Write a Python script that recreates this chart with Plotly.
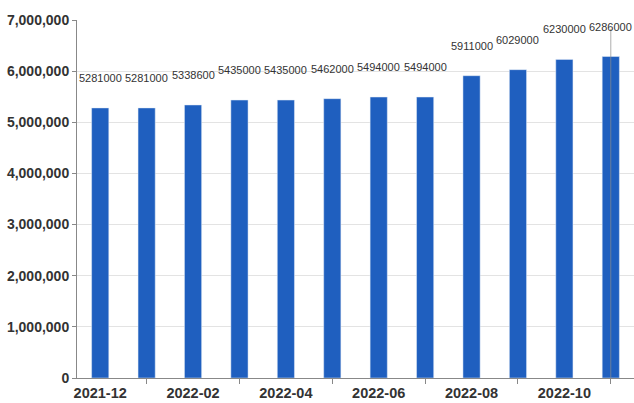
import plotly.graph_objects as go

months = ["2021-12", "2022-01", "2022-02", "2022-03", "2022-04", "2022-05",
          "2022-06", "2022-07", "2022-08", "2022-09", "2022-10", "2022-11"]
values = [5281000, 5281000, 5338600, 5435000, 5435000, 5462000,
          5494000, 5494000, 5911000, 6029000, 6230000, 6286000]
y_ticks = [0, 1000000, 2000000, 3000000, 4000000, 5000000, 6000000, 7000000]
y_ticktext = ["0", "1,000,000", "2,000,000", "3,000,000", "4,000,000",
              "5,000,000", "6,000,000", "7,000,000"]

BAR = "#1f5fbf"
FONT = "Liberation Sans, Arial, sans-serif"

fig = go.Figure()
fig.add_trace(go.Bar(x=months, y=values, marker_color=BAR, width=0.37,
                     hoverinfo="skip"))
# invisible helper trace for the secondary (tick-mark) axis
fig.add_trace(go.Scatter(x=months, y=values, xaxis="x2", mode="markers",
                         marker=dict(opacity=0), hoverinfo="skip",
                         showlegend=False))

for m, v in zip(months, values):
    fig.add_annotation(x=m, y=v, text=str(v), showarrow=False, yshift=30,
                       font=dict(family=FONT, size=11, color="#333"))

fig.add_shape(type="line", xref="x", yref="paper", x0=months[-1], x1=months[-1],
              y0=0, y1=0.975, line=dict(color="rgba(140,140,140,0.7)", width=1))

fig.update_layout(
    width=634, height=403,
    margin=dict(l=77, r=0, t=20, b=25),
    paper_bgcolor="white", plot_bgcolor="white",
    showlegend=False, bargap=0.63,
    xaxis=dict(type="category", categoryarray=months, categoryorder="array",
               range=[-0.5, 11.5], tickvals=months[0::2],
               ticktext=months[0::2], ticks="", showgrid=False,
               showline=True, linecolor="#888", linewidth=1,
               tickfont=dict(family=FONT, size=14.5, color="#333",
                             weight="bold"),
               ticklabelstandoff=2),
    xaxis2=dict(type="category", categoryarray=months, categoryorder="array",
                range=[-0.5, 11.5], overlaying="x", anchor="y",
                tickvals=months[1::2], ticks="outside", ticklen=5,
                tickcolor="#888", showticklabels=False, showgrid=False,
                showline=False, side="bottom"),
    yaxis=dict(range=[0, 7000000], tickvals=y_ticks, ticktext=y_ticktext,
               showgrid=True, gridcolor="#e3e3e3", gridwidth=1,
               showline=True, linecolor="#888", linewidth=1,
               ticks="outside", ticklen=4, tickcolor="#888",
               zeroline=False,
               tickfont=dict(family=FONT, size=14, color="#333",
                             weight="bold")),
)

fig.write_html("out.html", config={"displayModeBar": False},
               post_script="document.body.style.margin='0';"
                           "document.body.style.overflow='hidden';")
